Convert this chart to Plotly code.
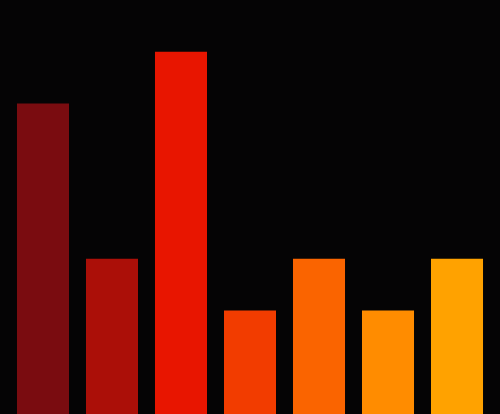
import plotly.graph_objects as go

CATEGORIES = ["A", "B", "C", "D", "E", "F", "G"]
VALUES = [6, 3, 7, 2, 3, 2, 3]
COLORS = ["#7a0c10", "#ab0f08", "#e81500", "#f23c00", "#fa6400", "#ff8c00", "#ffa200"]

fig = go.Figure(
    go.Bar(
        x=list(range(len(CATEGORIES))),
        y=VALUES,
        width=0.754,
        marker=dict(color=COLORS, line=dict(width=0)),
        hovertext=CATEGORIES,
    )
)
fig.update_layout(
    width=500,
    height=414,
    margin=dict(l=0, r=0, t=0, b=0),
    paper_bgcolor="#050405",
    plot_bgcolor="#050405",
    showlegend=False,
)
fig.update_xaxes(visible=False, range=[-0.623, 6.623])
fig.update_yaxes(visible=False, range=[0, 8])

# drop the browser's default body margin so the chart fills the window
fig.write_html(
    "out.html",
    config={"displayModeBar": False},
    post_script="document.body.style.margin='0';document.body.style.background='#050405';",
)
